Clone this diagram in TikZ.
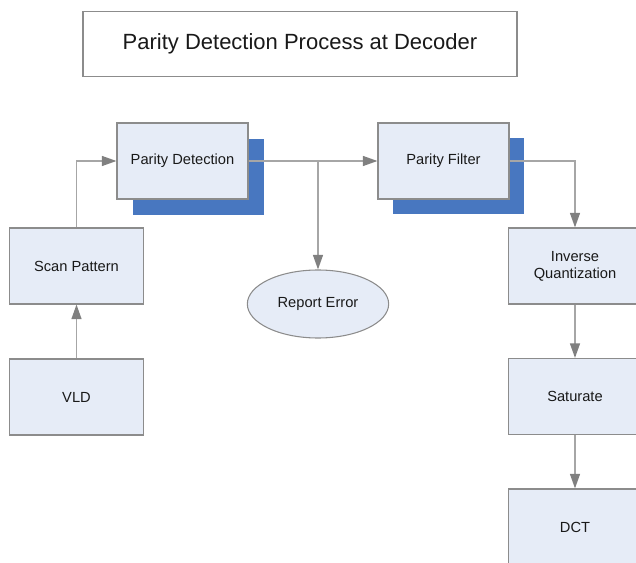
\documentclass[tikz,border=0pt]{standalone}
\usepackage{fontspec}
\setmainfont{Liberation Sans}
\usetikzlibrary{arrows.meta,shapes.geometric}
\definecolor{boxfill}{HTML}{E6ECF7}
\definecolor{boxline}{HTML}{8C8C8C}
\definecolor{shadowblue}{HTML}{4877C0}
\definecolor{linkgray}{HTML}{A6A6A6}
\definecolor{tipgray}{HTML}{808080}
\tikzset{
  procbox/.style={draw=boxline, line width=0.8pt, fill=boxfill, rectangle,
    minimum width=100pt, minimum height=57pt, inner sep=0pt,
    font=\fontsize{11}{12.8}\selectfont, align=center, text=black!90},
  shadowbox/.style={procbox, draw=none, fill=shadowblue},
  oval/.style={draw=boxline, line width=0.8pt, fill=boxfill, ellipse,
    minimum width=106pt, minimum height=51pt, inner sep=0pt,
    font=\fontsize{11}{12.8}\selectfont, text=black!90},
  titlebox/.style={draw=boxline, line width=0.8pt, fill=white, rectangle,
    minimum width=325.5pt, minimum height=48.5pt, inner sep=0pt,
    font=\fontsize{16.5}{19}\selectfont, text=black!90},
  link/.style={draw=linkgray, line width=1.1pt,
    -{Triangle[length=11pt, width=7.5pt, color=tipgray, fill=tipgray]}},
  plainlink/.style={draw=linkgray, line width=1.1pt}
}
\begin{document}
\begin{tikzpicture}[x=0.75pt, y=-0.75pt]
  \useasboundingbox (0,0) rectangle (636,563);
  \clip (0,0) rectangle (636,563);

  % heading
  \node[titlebox] (title) at (300,44) {Parity Detection Process at Decoder};

  % drop shadows behind the two parity stages
  \node[shadowbox, minimum width=98.25pt] (pdshadow) at (198.5,177) {};
  \node[shadowbox, minimum width=98.25pt] (pfshadow) at (458.5,176.5) {};

  % processing stages
  \node[procbox, minimum width=98.25pt] (pd) at (182.5,161) {Parity Detection};
  \node[procbox, minimum width=98.25pt] (pf) at (443.5,161) {Parity Filter};
  \node[procbox] (scan) at (76.5,266) {Scan Pattern};
  \node[procbox] (vld) at (76.5,397) {VLD};
  \node[procbox] (iq) at (575,266) {Inverse\\Quantization};
  \node[procbox] (sat) at (575,396.5) {Saturate};
  \node[procbox] (dct) at (575,527) {DCT};
  \node[oval] (err) at (318,304) {Report Error};

  % connectors
  \coordinate (split) at (318,161);
  \draw[link] (vld.north) -- (scan.south);
  \draw[link] (scan.north) |- (pd.west);
  \draw[plainlink] (pd.east) -- (split);
  \draw[link] (split) -- (pf.west);
  \draw[link] (split) -- (err.north);
  \draw[link] (pf.east) -| (iq.north);
  \draw[link] (iq.south) -- (sat.north);
  \draw[link] (sat.south) -- (dct.north);
\end{tikzpicture}
\end{document}
